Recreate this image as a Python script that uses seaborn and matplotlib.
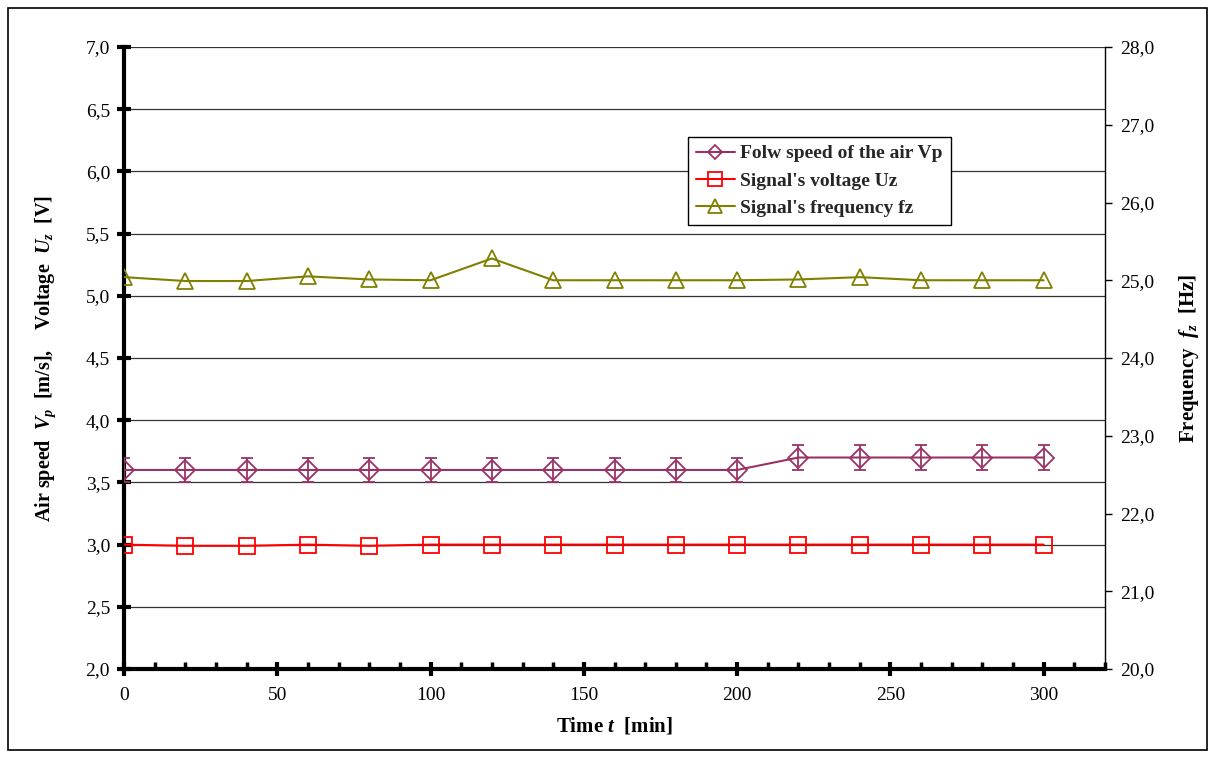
import matplotlib
matplotlib.use("Agg")
import matplotlib.pyplot as plt
import seaborn as sns
import numpy as np
import pandas as pd
from matplotlib.ticker import MultipleLocator, FuncFormatter
from matplotlib.lines import Line2D
from matplotlib.patches import Rectangle

time_min = [0, 20, 40, 60, 80, 100, 120, 140, 160, 180, 200, 220, 240, 260, 280, 300]
air_speed = [3.6, 3.6, 3.6, 3.6, 3.6, 3.6, 3.6, 3.6, 3.6, 3.6, 3.6, 3.7, 3.7, 3.7, 3.7, 3.7]
air_speed_err = [0.1] * 16
voltage = [3.0, 2.99, 2.99, 3.0, 2.99, 3.0, 3.0, 3.0, 3.0, 3.0, 3.0, 3.0, 3.0, 3.0, 3.0, 3.0]
frequency = [25.04, 24.99, 24.99, 25.05, 25.01, 25.0, 25.28, 25.0, 25.0, 25.0, 25.0, 25.01, 25.04, 25.0, 25.0, 25.0]

labels = ["Folw speed of the air Vp", "Signal's voltage Uz", "Signal's frequency fz"]
c_vp, c_uz, c_fz = "#993366", "#FF0000", "#808000"

sns.set_theme(style="white")
plt.rcParams["font.family"] = ["Liberation Serif", "DejaVu Serif"]
plt.rcParams["mathtext.fontset"] = "custom"
plt.rcParams["mathtext.rm"] = "Liberation Serif:bold"
plt.rcParams["mathtext.it"] = "Liberation Serif:italic:bold"
plt.rcParams["mathtext.bf"] = "Liberation Serif:bold"

df = pd.DataFrame({"t": time_min, "vp": air_speed, "uz": voltage, "fz": frequency})

fig = plt.figure(figsize=(12.13, 7.58), dpi=100)
ax = fig.add_axes([124/1213, 1-669/758, (1105-124)/1213, (669-47)/758])
ax2 = ax.twinx()

# outer frame
fig.patches.append(Rectangle((8/1213, 8/758), (1207-8)/1213, (750-8)/758, transform=fig.transFigure,
                             fill=False, edgecolor="black", linewidth=1.2, zorder=0))

ax.errorbar(df["t"], df["vp"], yerr=air_speed_err, fmt="none", ecolor=c_vp, elinewidth=1.3,
            capsize=4.5, capthick=1.3, zorder=3)
sns.lineplot(data=df, x="t", y="vp", ax=ax, color=c_vp, marker="D", markersize=10,
             markerfacecolor="none", markeredgecolor=c_vp, markeredgewidth=1.3, linewidth=1.5, zorder=4)
sns.lineplot(data=df, x="t", y="uz", ax=ax, color=c_uz, marker="s", markersize=11.5,
             markerfacecolor="none", markeredgecolor=c_uz, markeredgewidth=1.3, linewidth=1.5, zorder=4)
sns.lineplot(data=df, x="t", y="fz", ax=ax2, color=c_fz, marker="^", markersize=12,
             markerfacecolor="none", markeredgecolor=c_fz, markeredgewidth=1.3, linewidth=1.5, zorder=4)

ax.set_xlim(0, 320)
ax.set_ylim(2.0, 7.0)
ax2.set_ylim(20.0, 28.0)

comma = FuncFormatter(lambda v, p: f"{v:.1f}".replace(".", ","))
ax.yaxis.set_major_locator(MultipleLocator(0.5))
ax.yaxis.set_major_formatter(comma)
ax2.yaxis.set_major_locator(MultipleLocator(1.0))
ax2.yaxis.set_major_formatter(comma)
ax.xaxis.set_major_locator(MultipleLocator(50))
ax.xaxis.set_minor_locator(MultipleLocator(10))

ax.grid(axis="y", color="#333333", linewidth=0.9)
ax.grid(axis="x", visible=False)
ax2.grid(False)
ax.set_axisbelow(True)

for s in ["top"]:
    ax.spines[s].set_visible(False)
    ax2.spines[s].set_visible(False)
ax.spines["left"].set_linewidth(3)
ax.spines["bottom"].set_linewidth(3)
ax.spines["left"].set_color("black")
ax.spines["bottom"].set_color("black")
ax2.spines["right"].set_linewidth(1.0)
ax2.spines["right"].set_color("black")
ax2.spines["left"].set_visible(False)
ax2.spines["bottom"].set_visible(False)
ax.spines["right"].set_visible(False)

ax.tick_params(axis="y", which="major", direction="inout", length=10, width=3, labelsize=14,
               left=True, colors="black", pad=5)
ax.tick_params(axis="x", which="major", direction="inout", length=10, width=3, labelsize=14,
               bottom=True, colors="black", pad=8)
ax.tick_params(axis="x", which="minor", direction="in", length=5, width=2.5, bottom=True, colors="black")
ax2.tick_params(axis="y", which="major", direction="out", length=5, width=1, labelsize=14,
                right=True, colors="black", pad=6)
for lab in ax.get_xticklabels() + ax.get_yticklabels() + ax2.get_yticklabels():
    lab.set_color("black")

ax.set_xlabel(r"Time $t$  [min]", fontsize=15, fontweight="bold", color="black", labelpad=8)
ax.set_ylabel(r"Air speed  $V_p$  [m/s],    Voltage  $U_z$  [V]", fontsize=14.5, fontweight="bold",
              color="black", labelpad=20)
ax2.set_ylabel(r"Frequency  $f_z$  [Hz]", fontsize=15, fontweight="bold", color="black", labelpad=16)

handles = [
    Line2D([], [], color=c_vp, marker="D", markersize=7.5, markerfacecolor="none", markeredgewidth=1.3, linewidth=1.5),
    Line2D([], [], color=c_uz, marker="s", markersize=9.5, markerfacecolor="none", markeredgewidth=1.3, linewidth=1.5),
    Line2D([], [], color=c_fz, marker="^", markersize=10, markerfacecolor="none", markeredgewidth=1.3, linewidth=1.5),
]
leg = ax2.legend(handles, labels, loc="upper left", bbox_to_anchor=((688-124)/981, (669-137)/622),
                 frameon=True, fancybox=False, edgecolor="black", framealpha=1,
                 prop={"family": "Liberation Serif", "weight": "bold", "size": 14},
                 handlelength=2.0, handletextpad=0.3, borderpad=0.4, labelspacing=0.5, borderaxespad=0)
leg.get_frame().set_linewidth(1.0)
leg.set_zorder(10)

fig.savefig("out.png", dpi=100)
